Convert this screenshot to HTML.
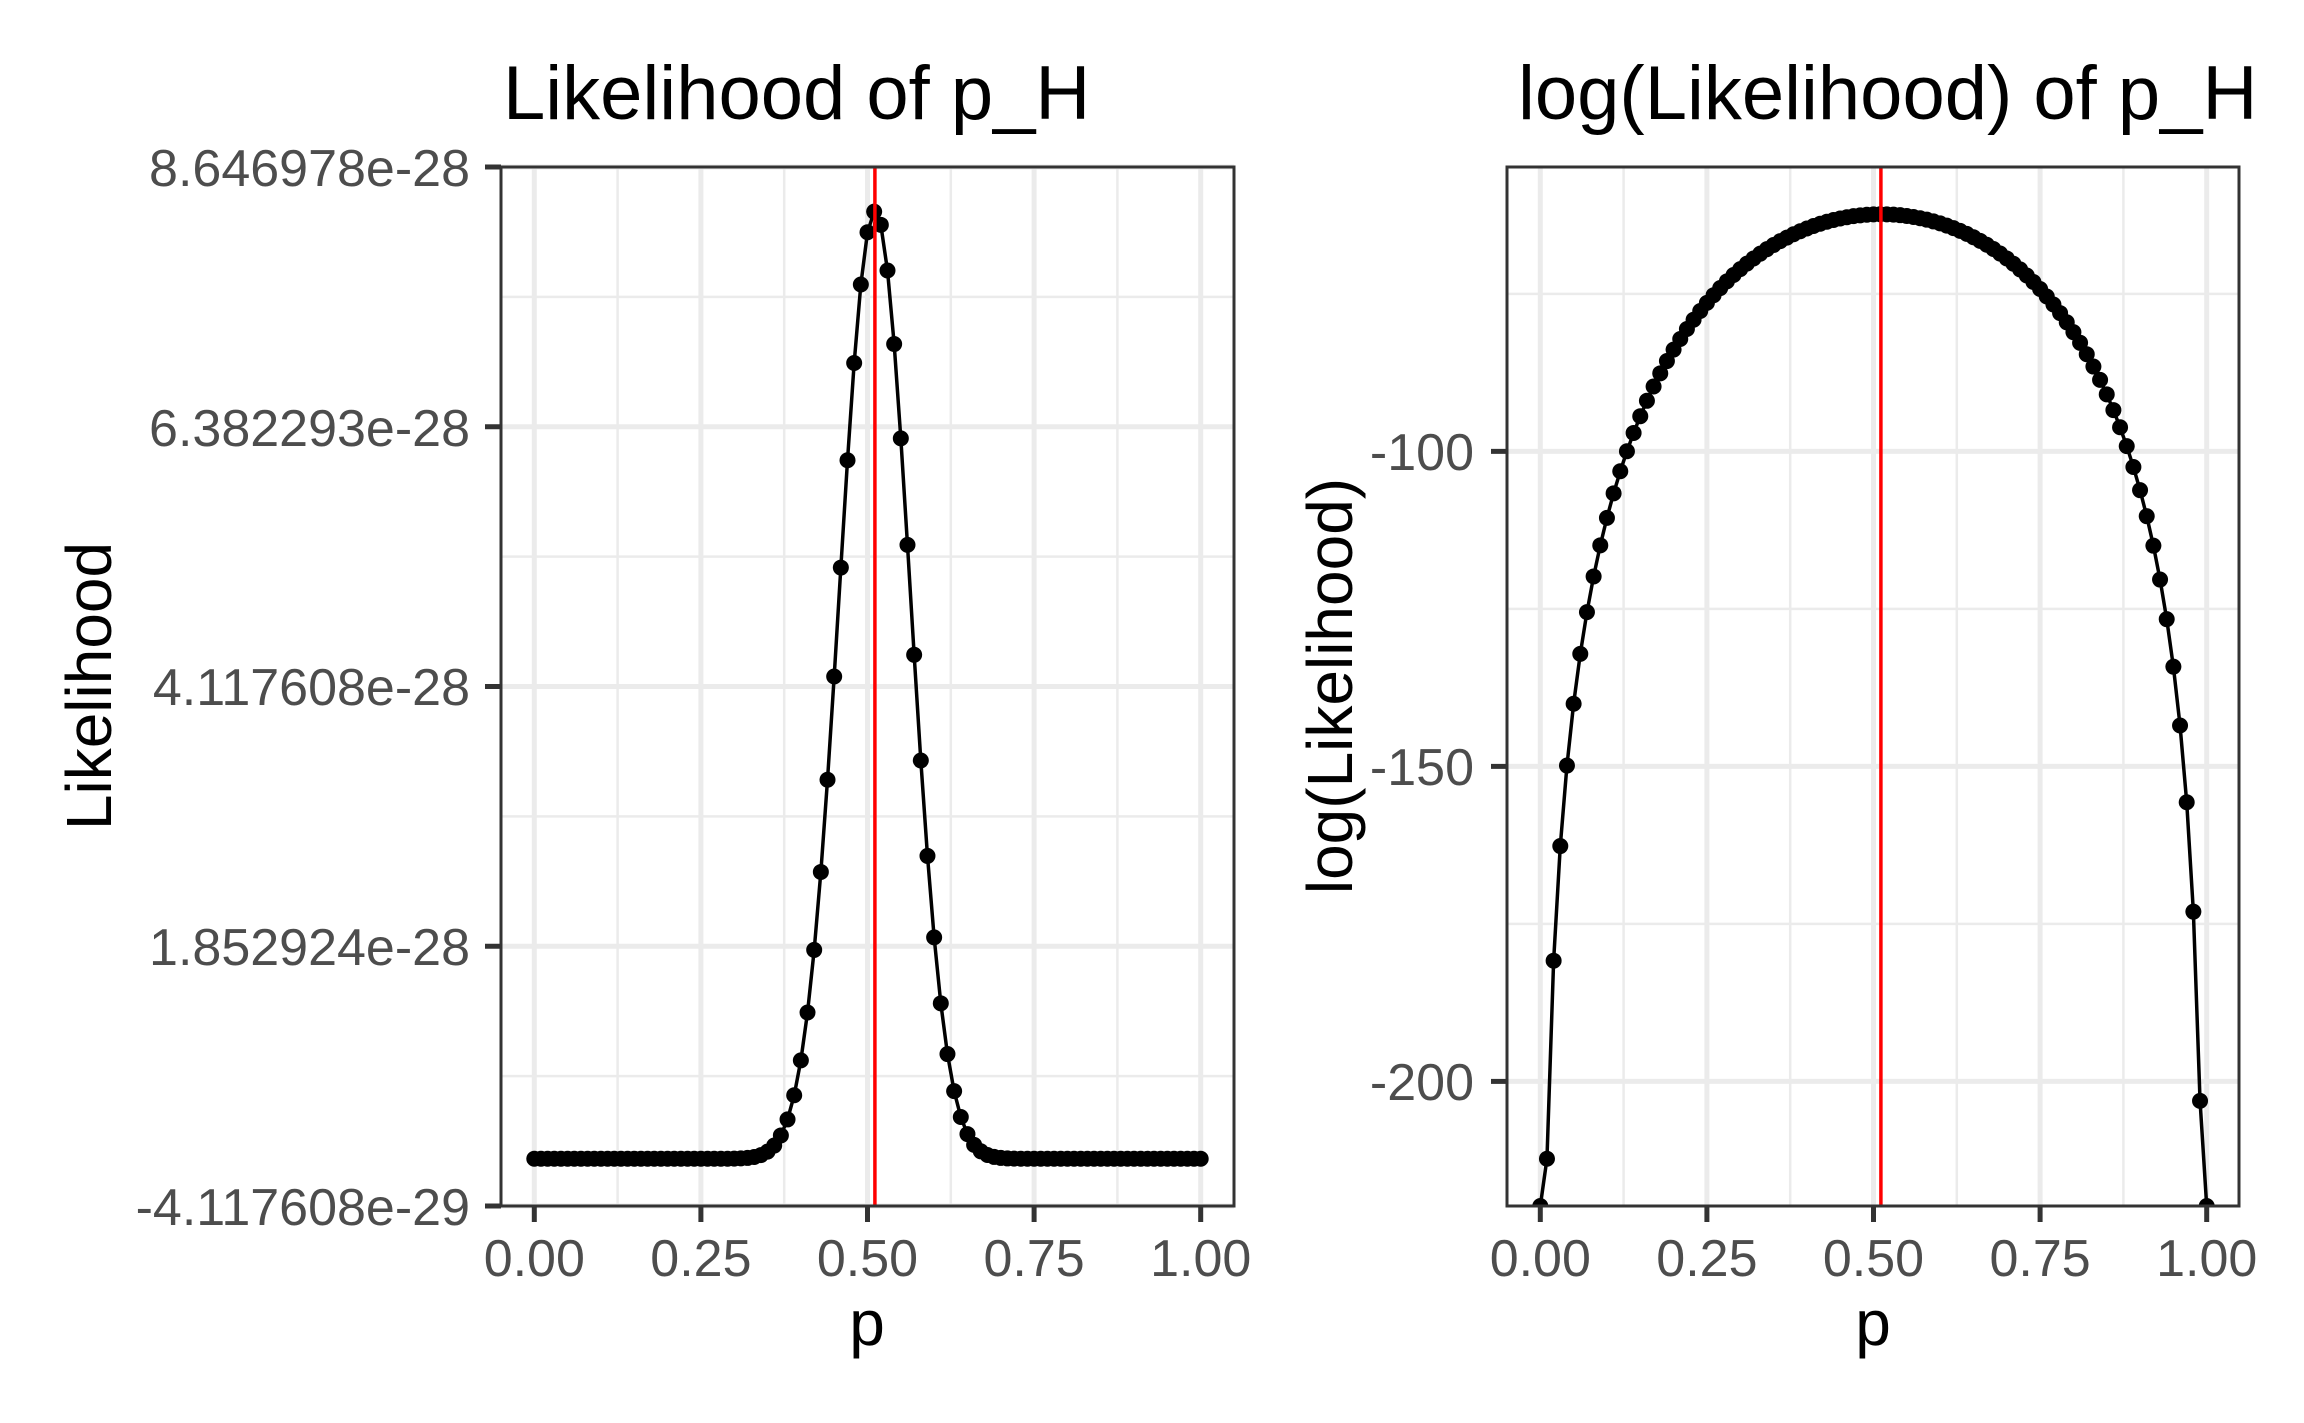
<!DOCTYPE html>
<html><head><meta charset="utf-8"><style>
html,body{margin:0;padding:0;background:#fff;}
svg{display:block;}
text{font-family:"Liberation Sans",Arial,sans-serif;}
</style></head><body>
<svg id="s" width="2304" height="1423" viewBox="0 0 2304 1423" xmlns="http://www.w3.org/2000/svg">
<defs>
<clipPath id="c1"><rect x="501" y="167" width="733" height="1039"/></clipPath>
<clipPath id="c2"><rect x="1507" y="167" width="732" height="1039"/></clipPath>
</defs>
<rect width="2304" height="1423" fill="#fff"/>
<g id="g1"></g>
<g id="g2"></g>
<text x="503" y="119" font-size="76" fill="#000">Likelihood of p_H</text>
<text x="1518" y="119" font-size="76" fill="#000">log(Likelihood) of p_H</text>
<g font-size="52" fill="#4D4D4D" text-anchor="end">
<text x="470" y="186">8.646978e-28</text>
<text x="470" y="446">6.382293e-28</text>
<text x="470" y="705">4.117608e-28</text>
<text x="470" y="965">1.852924e-28</text>
<text x="470" y="1225">-4.117608e-29</text>
<text x="1474" y="470">-100</text>
<text x="1474" y="785">-150</text>
<text x="1474" y="1100">-200</text>
</g>
<g font-size="52" fill="#4D4D4D" text-anchor="middle">
<text x="534.3" y="1276">0.00</text>
<text x="700.9" y="1276">0.25</text>
<text x="867.5" y="1276">0.50</text>
<text x="1034.1" y="1276">0.75</text>
<text x="1200.7" y="1276">1.00</text>
<text x="1540.3" y="1276">0.00</text>
<text x="1706.9" y="1276">0.25</text>
<text x="1873.5" y="1276">0.50</text>
<text x="2040.1" y="1276">0.75</text>
<text x="2206.7" y="1276">1.00</text>
</g>
<g font-size="64" fill="#000" text-anchor="middle">
<text x="867" y="1345">p</text>
<text x="1873" y="1345">p</text>
<text transform="translate(111,686) rotate(-90)">Likelihood</text>
<text transform="translate(1352,686) rotate(-90)">log(Likelihood)</text>
</g>
</svg>
<script>
(function(){
var NS="http://www.w3.org/2000/svg";
function el(p,tag,a){var e=document.createElementNS(NS,tag);for(var k in a)e.setAttribute(k,a[k]);p.appendChild(e);return e;}
var top=167,bot=1206,H=1039;
function panel(g,L,R,x0,majY,minY,clip,pts){
  el(g,"rect",{x:L,y:top,width:R-L,height:H,fill:"#fff"});
  var xs=function(p){return x0+p*666.4;};
  [0.125,0.375,0.625,0.875].forEach(function(p){el(g,"line",{x1:xs(p),x2:xs(p),y1:top,y2:bot,stroke:"#EBEBEB","stroke-width":2.5});});
  minY.forEach(function(y){el(g,"line",{x1:L,x2:R,y1:y,y2:y,stroke:"#EBEBEB","stroke-width":2.5});});
  [0,0.25,0.5,0.75,1].forEach(function(p){el(g,"line",{x1:xs(p),x2:xs(p),y1:top,y2:bot,stroke:"#EBEBEB","stroke-width":5});});
  majY.forEach(function(y){el(g,"line",{x1:L,x2:R,y1:y,y2:y,stroke:"#EBEBEB","stroke-width":5});});
  var cg=el(g,"g",{"clip-path":"url(#"+clip+")"});
  var d="";
  pts.forEach(function(q,i){d+=(i?"L":"M")+xs(q[0]).toFixed(2)+","+q[1].toFixed(2);});
  el(cg,"path",{d:d,fill:"none",stroke:"#000","stroke-width":3.5});
  pts.forEach(function(q){el(cg,"circle",{cx:xs(q[0]),cy:q[1],r:8,fill:"#000"});});
  var mx=xs(46/90);
  el(cg,"line",{x1:mx,x2:mx,y1:top,y2:bot,stroke:"#FF0000","stroke-width":3.5});
  el(g,"rect",{x:L,y:top,width:R-L,height:H,fill:"none",stroke:"#333333","stroke-width":3});
  majY.forEach(function(y){el(g,"line",{x1:L-16,x2:L,y1:y,y2:y,stroke:"#333333","stroke-width":5});});
  [0,0.25,0.5,0.75,1].forEach(function(p){el(g,"line",{x1:xs(p),x2:xs(p),y1:bot,y2:bot+16,stroke:"#333333","stroke-width":5});});
}
var ymin=-4.117608e-29,ymax=8.646978e-28;
var p1=[],p2=[];
var lmax=-1e9,lmin=1e9,vals=[];
for(var i=0;i<=100;i++){
  var p=i/100;
  var Lk=Math.pow(p,46)*Math.pow(1-p,44);
  p1.push([p,bot-(Lk-ymin)/(ymax-ymin)*H]);
  var l=46*Math.log(p)+44*Math.log(1-p);
  vals.push(l);
  if(isFinite(l)){lmax=Math.max(lmax,l);lmin=Math.min(lmin,l);}
}
var r=lmax-lmin,hi=lmax+0.05*r,lo=lmin-0.05*r;
function yl(v){return top+(hi-v)/(hi-lo)*H;}
for(var i=0;i<=100;i++){var v=vals[i];p2.push([i/100,isFinite(v)?yl(v):bot]);}
var maj1=[167,426.75,686.5,946.25,1206],min1=[296.9,556.6,816.4,1076.1];
panel(document.getElementById("g1"),501,1234,534.3,maj1,min1,"c1",p1);
var maj2=[yl(-100),yl(-150),yl(-200)],min2=[yl(-75),yl(-125),yl(-175)];
panel(document.getElementById("g2"),1507,2239,1540.3,maj2,min2,"c2",p2);
})();
</script>
</body></html>
